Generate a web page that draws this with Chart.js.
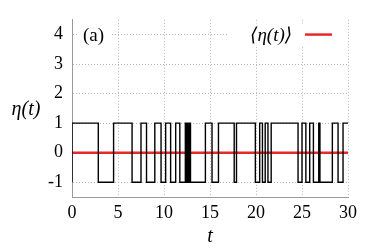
<!DOCTYPE html>
<html>
<head>
<meta charset="utf-8">
<script src="https://cdn.jsdelivr.net/npm/chart.js@4"></script>
<style>
  html, body { margin: 0; padding: 0; background: #fff; }
  #wrap { width: 374px; height: 249px; }
</style>
</head>
<body>
<div id="wrap"><canvas id="noiseChart"></canvas></div>
<script>
// switching times of the telegraph signal and the level after each switch
const switchTimes = [0, 0, 2.86, 4.52, 6.53, 7.5, 8.1, 9.0, 9.68, 10.18, 10.72, 11.27, 11.72,
  12.32, 12.45, 12.55, 12.68, 12.78, 12.88, 14.5, 15.22, 15.92, 17.63, 17.88, 19.93,
  20.4, 20.7, 21.0, 21.3, 21.65, 24.57, 25.0, 25.42, 25.84, 26.24, 26.82, 26.95,
  28.3, 28.92, 29.46, 30];
const etaValues = [-1, 1, -1, 1, -1, 1, -1, 1, -1, 1, -1, 1, -1,
  1, -1, 1, -1, 1, -1, 1, -1, 1, -1, 1, -1,
  1, -1, 1, -1, 1, -1, 1, -1, 1, -1, 1, -1,
  1, -1, 1, 1];
const meanTimes = [0, 30];
const meanValues = [0, 0];
const xTicks = [0, 5, 10, 15, 20, 25, 30];
const yTicks = [-1, 0, 1, 2, 3, 4];

const serif = '"Liberation Serif", "DejaVu Serif", serif';
const gridColor = '#b4b4b4';

const labelsPlugin = {
  id: 'labels',
  afterDraw(chart) {
    const c = chart.ctx;
    const area = chart.chartArea;
    const y4 = chart.scales.y.getPixelForValue(4);
    c.save();
    // opaque boxes like gnuplot
    c.fillStyle = '#fff';
    c.fillRect(78, y4 - 11, 34, 22);
    c.fillRect(228, y4 - 11, area.right - 228, 22);
    c.fillStyle = '#000';
    c.textBaseline = 'middle';
    c.font = '19px ' + serif;
    c.textAlign = 'left';
    c.fillText('(a)', 83, y4 + 1);
    c.font = 'italic 19px ' + serif;
    c.fillText('\u27E8\u03B7(t)\u27E9', 250, y4 + 1);
    c.strokeStyle = '#e8282a';
    c.lineWidth = 2.5;
    c.beginPath();
    c.moveTo(305, y4);
    c.lineTo(332, y4);
    c.stroke();
    // axis titles
    c.font = 'italic 20px ' + serif;
    c.textAlign = 'center';
    c.fillText('\u03B7(t)', 26, 110);
    c.fillText('t', (area.left + area.right) / 2, 237);
    c.restore();
  }
};

new Chart(document.getElementById('noiseChart'), {
  type: 'line',
  data: {
    datasets: [{
      data: switchTimes.map((t, i) => ({ x: t, y: etaValues[i] })),
      borderColor: '#000',
      borderWidth: 1.4,
      stepped: true,
      pointRadius: 0,
      fill: false
    }, {
      data: meanTimes.map((t, i) => ({ x: t, y: meanValues[i] })),
      borderColor: '#e8282a',
      borderWidth: 2.5,
      pointRadius: 0,
      fill: false
    }]
  },
  options: {
    responsive: true,
    maintainAspectRatio: false,
    animation: false,
    layout: { padding: { top: 17, right: 26, left: 0, bottom: 0 } },
    plugins: {
      legend: { display: false },
      tooltip: { enabled: false }
    },
    scales: {
      x: {
        type: 'linear',
        min: 0,
        max: 30,
        afterBuildTicks: s => { s.ticks = xTicks.map(v => ({ value: v })); },
        afterFit: s => { s.height = 52; },
        ticks: { color: '#000', font: { family: serif, size: 18 }, padding: 5, maxRotation: 0 },
        grid: { color: gridColor, drawTicks: false, tickLength: 0 },
        border: { display: true, color: '#9a9a9a', width: 1, dash: [1, 2] }
      },
      y: {
        type: 'linear',
        min: -1.5,
        max: 4.5,
        afterBuildTicks: s => { s.ticks = yTicks.map(v => ({ value: v })); },
        afterFit: s => { s.width = 72; },
        ticks: { color: '#000', font: { family: serif, size: 18 }, padding: 9 },
        grid: { color: gridColor, drawTicks: false, tickLength: 0 },
        border: { display: true, color: '#9a9a9a', width: 1, dash: [1, 2] }
      }
    }
  },
  plugins: [labelsPlugin]
});
</script>
</body>
</html>
